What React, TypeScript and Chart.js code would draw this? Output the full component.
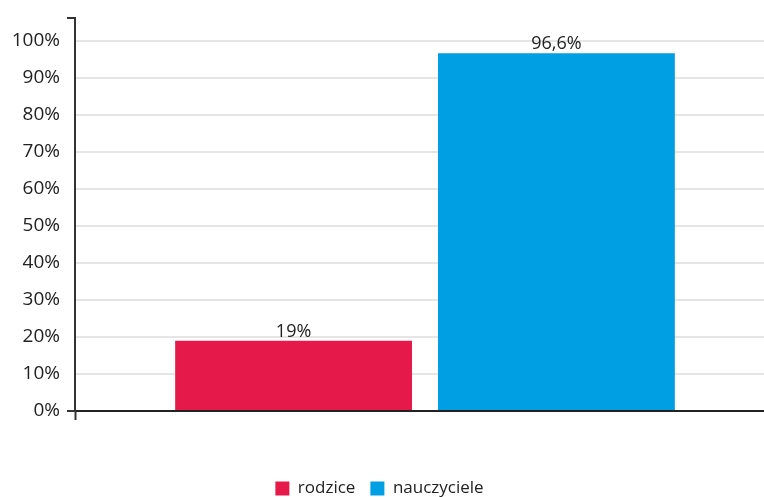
import React, { useEffect, useRef } from 'react';
import { Chart, registerables } from 'chart.js';

Chart.register(...registerables);

const categories = [''];
const seriesNames = ['rodzice', 'nauczyciele'];
const rodziceValues = [19];
const nauczycieleValues = [96.6];
const seriesColors = ['#E51A4B', '#009FE3'];
const yMin = 0;
const yMax = 106;
const yStep = 10;
const yLabelMax = 100;

const FONT = '"Open Sans", "Noto Sans", sans-serif';
const TEXT = '#222222';
const AXIS = '#333333';

export default function App() {
  const ref = useRef<HTMLCanvasElement>(null);

  useEffect(() => {
    if (!ref.current) return;

    const valueLabels = {
      id: 'valueLabels',
      afterDatasetsDraw(chart: any) {
        const ctx = chart.ctx;
        ctx.save();
        ctx.font = `18px ${FONT}`;
        ctx.fillStyle = TEXT;
        ctx.textAlign = 'center';
        ctx.textBaseline = 'alphabetic';
        chart.data.datasets.forEach((ds: any, i: number) => {
          const meta = chart.getDatasetMeta(i);
          meta.data.forEach((el: any, j: number) => {
            const v = ds.data[j] as number;
            ctx.fillText(String(v).replace('.', ',') + '%', el.x, el.y - 4);
          });
        });
        ctx.restore();
      },
    };

    const legendPlace = {
      id: 'legendPlace',
      afterLayout(chart: any) {
        const l = chart.legend;
        if (l) {
          l.left -= 8;
          l.right -= 8;
        }
      },
    };

    const chart = new Chart(ref.current, {
      type: 'bar',
      data: {
        labels: categories,
        datasets: [
          {
            label: seriesNames[0],
            data: rodziceValues,
            backgroundColor: seriesColors[0],
            borderWidth: 0,
            categoryPercentage: 0.751,
            barPercentage: 0.901,
          },
          {
            label: seriesNames[1],
            data: nauczycieleValues,
            backgroundColor: seriesColors[1],
            borderWidth: 0,
            categoryPercentage: 0.751,
            barPercentage: 0.901,
          },
        ],
      },
      options: {
        responsive: false,
        animation: false,
        events: [],
        layout: { padding: { top: 16, bottom: 3, left: 0, right: 1 } },
        plugins: {
          tooltip: { enabled: false },
          legend: {
            position: 'bottom',
            labels: {
              boxWidth: 14,
              boxHeight: 14,
              padding: 15,
              color: TEXT,
              font: { family: FONT, size: 17 },
            },
          },
        },
        scales: {
          x: {
            offset: true,
            afterFit: (s: any) => {
              s.height = 54;
            },
            ticks: { display: false },
            grid: {
              offset: true,
              drawOnChartArea: false,
              drawTicks: true,
              tickLength: 9,
              tickColor: AXIS,
              tickWidth: 2,
            },
            border: { display: true, color: '#222222', width: 2 },
          },
          y: {
            min: yMin,
            max: yMax,
            afterFit: (s: any) => {
              s.width = 75;
            },
            ticks: {
              stepSize: yStep,
              padding: 7,
              color: TEXT,
              font: { family: FONT, size: 19 },
              callback: (v: any) => (Number(v) <= yLabelMax ? `${v}%` : ''),
            },
            grid: {
              color: (c: any) => (c.tick && c.tick.value > yLabelMax ? 'rgba(0,0,0,0)' : '#e5e5e5'),
              lineWidth: 2,
              tickLength: 8,
              tickWidth: 2,
              tickColor: (c: any) =>
                c.tick && (c.tick.value === 0 || c.tick.value > yLabelMax) ? AXIS : 'rgba(0,0,0,0)',
            },
            border: { display: true, color: AXIS, width: 2 },
          },
        },
      },
      plugins: [valueLabels, legendPlace],
    } as any);

    return () => chart.destroy();
  }, []);

  return (
    <div style={{ position: 'fixed', left: 0, top: 0, width: 764, height: 497, overflow: 'hidden' }}>
      <canvas ref={ref} width={776} height={510} style={{ display: 'block' }} />
    </div>
  );
}
